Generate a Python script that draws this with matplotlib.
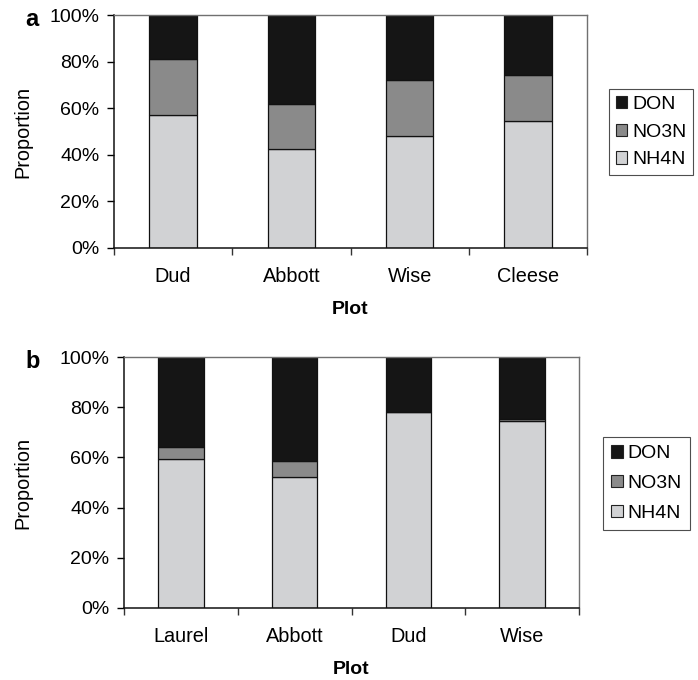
import matplotlib
matplotlib.use("Agg")
import matplotlib.pyplot as plt
from matplotlib.patches import Patch
from matplotlib.ticker import FixedLocator, PercentFormatter
import numpy as np

plt.rcParams['font.family'] = ['Liberation Sans', 'DejaVu Sans']

series = ["NH4N", "NO3N", "DON"]
colors = {"NH4N": "#d1d2d4", "NO3N": "#8a8a8a", "DON": "#151515"}

plots_a = ["Dud", "Abbott", "Wise", "Cleese"]
nh4_a = [57.0, 42.4, 48.0, 54.4]
no3_a = [24.0, 19.4, 24.0, 19.8]
don_a = [19.0, 38.2, 28.0, 25.8]

plots_b = ["Laurel", "Abbott", "Dud", "Wise"]
nh4_b = [59.5, 52.0, 78.0, 74.4]
no3_b = [4.5, 6.5, 0.0, 0.8]
don_b = [36.0, 41.5, 22.0, 24.8]

yticks = [0, 20, 40, 60, 80, 100]

W, H = 698, 680
fig = plt.figure(figsize=(W / 100, H / 100), dpi=100)

def px_axes(l, t, r, b):
    return fig.add_axes([l / W, 1 - b / H, (r - l) / W, (b - t) / H])

def draw(ax, cats, nh4, no3, don, legend_box, leg_fs, leg_sp, leg_bp,
         ylab_x_px, left_px, width_px):
    x = np.arange(len(cats)) + 0.5
    bottom = np.zeros(len(cats))
    for name, vals in zip(series, [nh4, no3, don]):
        ax.bar(x, vals, width=0.4, bottom=bottom, color=colors[name],
               edgecolor="#111111", linewidth=0.9, zorder=2)
        bottom = bottom + np.array(vals)
    ax.set_xlim(0, len(cats))
    ax.set_ylim(0, 100)
    ax.set_yticks(yticks)
    ax.yaxis.set_major_formatter(PercentFormatter(decimals=0))
    ax.set_xticks(x)
    ax.set_xticklabels(cats, fontsize=14.3)
    ax.xaxis.set_minor_locator(FixedLocator(np.arange(len(cats) + 1)))
    ax.tick_params(axis='x', which='major', length=0, pad=13.5)
    ax.tick_params(axis='x', which='minor', length=5, width=1, direction='out', color="#333333")
    ax.tick_params(axis='y', length=5, width=1, direction='out', pad=5.5, labelsize=14)
    for s in ["left", "bottom"]:
        ax.spines[s].set_color("#111111")
        ax.spines[s].set_linewidth(1.1)
    for s in ["top", "right"]:
        ax.spines[s].set_color("#707070")
        ax.spines[s].set_linewidth(1.0)
    ax.set_xlabel("Plot", fontsize=14, fontweight='bold', labelpad=11)
    ax.set_ylabel("Proportion", fontsize=14.3)
    ax.yaxis.set_label_coords((ylab_x_px - left_px) / width_px, 0.5)
    handles = [Patch(facecolor=colors[n], edgecolor="#222222", linewidth=0.8, label=n)
               for n in ["DON", "NO3N", "NH4N"]]
    lx, ly = legend_box
    leg = fig.legend(handles=handles, loc='upper left',
                     bbox_to_anchor=(lx / W, 1 - ly / H), fontsize=leg_fs,
                     frameon=True, fancybox=False, shadow=False,
                     handlelength=0.6, handleheight=0.6, handletextpad=0.25,
                     borderpad=leg_bp, labelspacing=leg_sp, borderaxespad=0)
    leg.get_frame().set_edgecolor("#222222")
    leg.get_frame().set_linewidth(0.8)
    return ax

ax_a = px_axes(114, 15, 587, 248)
draw(ax_a, plots_a, nh4_a, no3_a, don_a, (609, 89), 14, 0.55, 0.35, 32, 114, 473)
ax_b = px_axes(124, 357, 579, 608)
draw(ax_b, plots_b, nh4_b, no3_b, don_b, (603, 437), 14, 0.65, 0.42, 32, 124, 455)

fig.text(25 / W, 1 - 20 / H, "a", fontsize=17, fontweight='bold', ha='left', va='center')
fig.text(25 / W, 1 - 361 / H, "b", fontsize=17, fontweight='bold', ha='left', va='center')

fig.savefig("out.png", dpi=100, facecolor="white")
